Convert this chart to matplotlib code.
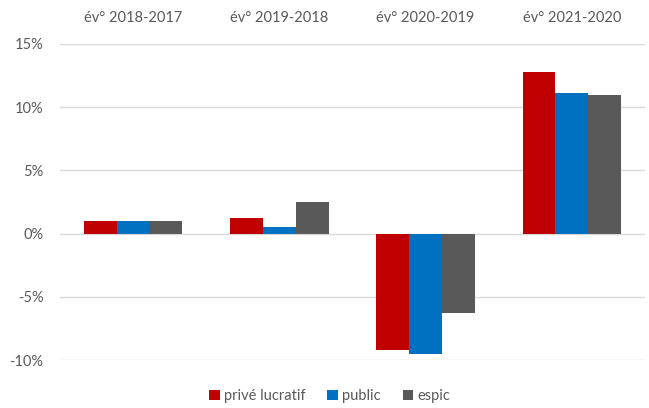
import matplotlib
matplotlib.use("Agg")
import matplotlib.pyplot as plt
import numpy as np
from matplotlib.ticker import FuncFormatter

categories = ["év° 2018-2017", "év° 2019-2018", "év° 2020-2019", "év° 2021-2020"]
prive_lucratif = [1.0, 1.2, -9.2, 12.8]
public = [1.0, 0.55, -9.5, 11.15]
espic = [1.0, 2.5, -6.3, 10.95]
series_names = ["privé lucratif", "public", "espic"]
colors = ["#C00000", "#0070C0", "#595959"]

plt.rcParams['font.family'] = ['Lato', 'DejaVu Sans']

fig = plt.figure(figsize=(6.49, 4.08), dpi=100)
ax = fig.add_axes([60/649, 1-360/408, (645-60)/649, (360-44)/408])

x = np.arange(len(categories))
w = 0.225
for i, (vals, name, c) in enumerate(zip([prive_lucratif, public, espic], series_names, colors)):
    ax.bar(x + (i-1)*w, vals, w, color=c, label=name, zorder=3)

ax.set_xlim(-0.5, len(categories)-0.5)
ax.set_ylim(-10, 15)
ax.set_yticks([-10, -5, 0, 5, 10, 15])
ax.yaxis.set_major_formatter(FuncFormatter(lambda v, p: f"{int(v)}%"))
ax.grid(axis='y', color='#D9D9D9', linewidth=1, zorder=0)
for s in ax.spines.values():
    s.set_visible(False)
ax.tick_params(axis='y', length=0, labelsize=10.5, labelcolor='#595959', pad=12)
ax.xaxis.tick_top()
ax.set_xticks(x)
ax.set_xticklabels(categories)
ax.tick_params(axis='x', length=0, labelsize=10.5, labelcolor='#595959', pad=14)

leg = fig.legend(loc='center', bbox_to_anchor=(0.508, 1-396/408), ncol=3, frameon=False,
                 fontsize=10.5, handlelength=0.7, handleheight=0.7, handletextpad=0.3,
                 columnspacing=1.5, labelcolor='#595959')

fig.savefig("out.png", dpi=100)
